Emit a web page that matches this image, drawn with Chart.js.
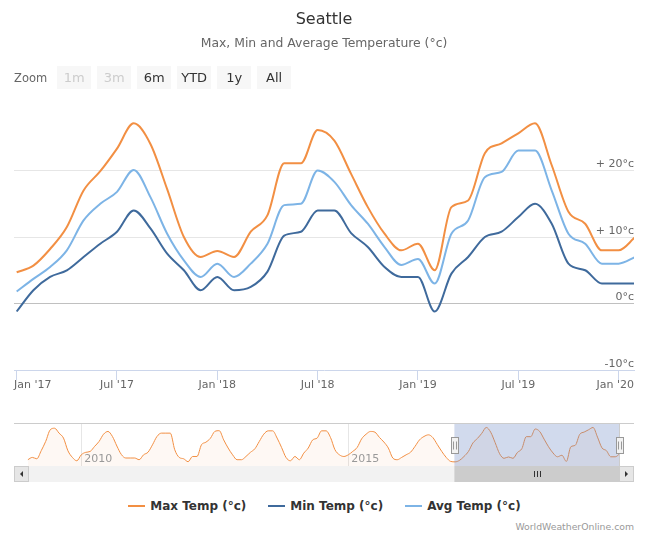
<!DOCTYPE html>
<html>
<head>
<meta charset="utf-8">
<title>Seattle</title>
<script src="https://cdn.jsdelivr.net/npm/chart.js@4.4.1/dist/chart.umd.min.js"></script>
<style>
  html, body { margin: 0; padding: 0; background: #fff; }
  body { width: 649px; height: 533px; position: relative; overflow: hidden; font-family: 'DejaVu Sans', sans-serif; }
  #main { position: absolute; left: 0; top: 0; }
  #nav { position: absolute; left: 0; top: 415px; }
  .zoom-bar { position: absolute; left: 14px; top: 66px; height: 23px; display: flex; align-items: center; }
  .zoom-bar .lbl { font-size: 11.5px; color: #666; margin-right: 10px; }
  .zoom-bar .btn { width: 34px; height: 23px; line-height: 23px; margin-right: 6px; text-align: center; background: #f7f7f7; font-size: 13px; color: #333; }
  .zoom-bar .btn.off { color: #ccc; }
  #legend { position: absolute; left: 0; width: 649px; top: 499px; display: flex; justify-content: center; }
  #legend .item { display: flex; align-items: center; margin: 0 11px; font-size: 12px; font-weight: bold; color: #333; }
  #legend .sym { width: 17px; height: 2px; margin-right: 5px; }
  .credit { position: absolute; right: 15px; top: 521px; font-size: 9.3px; color: #999; }
</style>
</head>
<body>
<canvas id="main" width="649" height="400"></canvas>
<div class="zoom-bar">
  <span class="lbl">Zoom</span>
  <span class="btn off">1m</span>
  <span class="btn off">3m</span>
  <span class="btn">6m</span>
  <span class="btn">YTD</span>
  <span class="btn">1y</span>
  <span class="btn">All</span>
</div>
<canvas id="nav" width="649" height="70"></canvas>
<div id="legend"></div>
<div class="credit">WorldWeatherOnline.com</div>
<script>
// monthly values, Jan 2017 .. Feb 2020
const months = [
  '2017-01', '2017-02', '2017-03', '2017-04', '2017-05', '2017-06', '2017-07', '2017-08', '2017-09', '2017-10', '2017-11', '2017-12',
  '2018-01', '2018-02', '2018-03', '2018-04', '2018-05', '2018-06', '2018-07', '2018-08', '2018-09', '2018-10', '2018-11', '2018-12',
  '2019-01', '2019-02', '2019-03', '2019-04', '2019-05', '2019-06', '2019-07', '2019-08', '2019-09', '2019-10', '2019-11', '2019-12',
  '2020-01', '2020-02'
];
const maxTemp = [
  4.7, 5.7, 8.2, 11.5, 17.0, 19.9, 23.3, 27.1, 24.0, 17.2, 10.0, 7.0,
  7.9, 7.0, 10.8, 13.3, 21.1, 21.1, 26.1, 24.5, 19.5, 14.5, 10.5, 8.0,
  9.0, 5.0, 14.5, 15.5, 22.6, 24.1, 25.6, 27.1, 20.8, 13.8, 12.0, 8.0,
  8.0, 10.0
];
const minTemp = [
  -1.2, 2.0, 4.0, 5.0, 7.0, 9.0, 10.8, 14.0, 11.3, 7.5, 5.0, 2.0,
  4.0, 2.0, 2.5, 4.8, 10.2, 10.8, 14.0, 14.0, 10.6, 8.5, 5.5, 4.0,
  4.0, -1.2, 4.5, 7.0, 10.0, 10.8, 13.0, 15.0, 12.0, 6.0, 5.0, 3.0,
  3.0, 3.0
];
const avgTemp = [
  1.8, 3.7, 5.5, 8.0, 12.5, 15.0, 16.8, 20.1, 16.0, 10.5, 6.5, 4.0,
  6.0, 4.0, 6.0, 9.0, 14.8, 15.0, 20.0, 18.3, 14.8, 12.0, 8.5, 5.8,
  6.7, 3.0, 10.5, 12.5, 19.0, 19.8, 23.0, 23.0, 17.0, 10.5, 9.0, 6.0,
  6.0, 7.0
];

// navigator: max temp Jan 2009 .. Dec 2016, followed by maxTemp
const historyMax = [
  6.1, 7.6, 6.7, 12.0, 18.0, 25.5, 26.6, 23.4, 20.2, 11.9, 7.6, 5.4,
  9.3, 10.9, 11.5, 14.8, 18.0, 22.7, 24.5, 21.2, 15.0, 9.5, 7.2, 7.2,
  7.2, 6.1, 9.3, 11.0, 15.8, 21.2, 23.4, 23.4, 23.4, 12.6, 7.6, 6.7,
  4.8, 8.2, 8.2, 15.8, 17.5, 20.0, 24.5, 25.0, 19.0, 13.7, 9.3, 6.1,
  6.1, 8.2, 10.9, 13.2, 18.0, 22.7, 24.9, 24.9, 20.2, 14.1, 7.6, 5.4,
  8.2, 6.1, 10.4, 13.7, 19.0, 20.2, 24.9, 24.9, 20.6, 12.6, 9.3, 8.2,
  9.3, 11.5, 14.1, 19.7, 22.7, 24.5, 24.0, 20.6, 17.6, 13.7, 7.2, 6.1,
  7.6, 9.3, 11.0, 14.8, 19.0, 21.2, 22.3, 20.5, 16.0, 11.5, 7.6, 5.0
];

const xTickMonths = [0, 6, 12, 18, 24, 30, 36];
const xTickLabels = ["Jan '17", "Jul '17", "Jan '18", "Jul '18", "Jan '19", "Jul '19", "Jan '20"];
const yTicks = [-10, 0, 10, 20, 30];
const yTickLabels = ['-10°c', '0°c', '+ 10°c', '+ 20°c', ''];
const navYearTicks = [12, 72];
const navYearLabels = ['2010', '2015'];

const FONT = "'DejaVu Sans', sans-serif";
const COLORS = { max: '#f28f43', min: '#3f6a9c', avg: '#7db4e6' };

// visible window of the main chart (month index)
const viewMin = -0.16;
const viewMax = 36.92;
const navOffset = historyMax.length;

const toPoints = arr => arr.map((y, i) => ({ x: i, y }));

// x labels, kept inside the plot like highstock does
const xLabelsPlugin = {
  id: 'xLabels',
  afterDraw(chart) {
    const { ctx, chartArea, scales: { x } } = chart;
    ctx.save();
    ctx.font = '11px ' + FONT;
    ctx.fillStyle = '#666';
    ctx.textBaseline = 'middle';
    ctx.textAlign = 'left';
    xTickMonths.forEach((m, i) => {
      const w = ctx.measureText(xTickLabels[i]).width;
      let left = x.getPixelForValue(m) - w / 2;
      left = Math.max(chartArea.left, Math.min(left, chartArea.right - w));
      ctx.fillText(xTickLabels[i], left, chartArea.bottom + 15);
    });
    ctx.restore();
  }
};

const mainChart = new Chart(document.getElementById('main'), {
  type: 'line',
  data: {
    labels: months,
    datasets: [
      { label: 'Max Temp (°c)', data: toPoints(maxTemp), borderColor: COLORS.max, backgroundColor: COLORS.max },
      { label: 'Min Temp (°c)', data: toPoints(minTemp), borderColor: COLORS.min, backgroundColor: COLORS.min },
      { label: 'Avg Temp (°c)', data: toPoints(avgTemp), borderColor: COLORS.avg, backgroundColor: COLORS.avg }
    ]
  },
  options: {
    responsive: false,
    animation: false,
    events: [],
    elements: {
      line: { borderWidth: 2, cubicInterpolationMode: 'monotone' },
      point: { radius: 0 }
    },
    layout: { padding: { left: 14, right: 15, top: 0, bottom: 20 } },
    plugins: {
      title: {
        display: true,
        text: 'Seattle',
        color: '#333',
        font: { family: FONT, size: 16, weight: 'normal' },
        padding: { top: 10, bottom: 7 }
      },
      subtitle: {
        display: true,
        text: 'Max, Min and Average Temperature (°c)',
        color: '#666',
        font: { family: FONT, size: 12.4 },
        padding: { top: 0, bottom: 53 }
      },
      legend: { display: false },
      tooltip: { enabled: false }
    },
    scales: {
      x: {
        type: 'linear',
        min: viewMin,
        max: viewMax,
        afterBuildTicks: scale => { scale.ticks = xTickMonths.map(v => ({ value: v })); },
        ticks: { display: false },
        grid: { drawOnChartArea: false, drawTicks: true, tickLength: 10, color: '#ccd6eb' },
        border: { color: '#ccd6eb' }
      },
      y: {
        position: 'right',
        min: -10,
        max: 30,
        afterBuildTicks: scale => { scale.ticks = yTicks.map(v => ({ value: v })); },
        ticks: {
          mirror: true,
          padding: 0,
          labelOffset: -6,
          color: '#666',
          font: { family: FONT, size: 11 },
          callback: v => yTickLabels[yTicks.indexOf(v)] || null
        },
        grid: {
          drawTicks: false,
          color: ctx => ctx.tick.value === 0 ? '#c0c0c0' : (ctx.tick.value === -10 ? 'rgba(0,0,0,0)' : '#e6e6e6')
        },
        border: { display: false }
      }
    }
  },
  plugins: [xLabelsPlugin]
});

// navigator chrome: year labels, mask, handles and scrollbar
const navPlugin = {
  id: 'navChrome',
  afterDatasetsDraw(chart) {
    const { ctx, chartArea: a, scales: { x } } = chart;
    const x0 = x.getPixelForValue(viewMin + navOffset);
    const x1 = x.getPixelForValue(viewMax + navOffset);
    ctx.save();
    ctx.font = '11px ' + FONT;
    ctx.fillStyle = '#999';
    ctx.textBaseline = 'alphabetic';
    navYearTicks.forEach((m, i) => {
      ctx.fillText(navYearLabels[i], x.getPixelForValue(m) + 3, a.bottom - 4);
    });
    ctx.fillStyle = 'rgba(102,133,194,0.3)';
    ctx.fillRect(x0, a.top, x1 - x0, a.bottom - a.top);
    // outline
    ctx.strokeStyle = '#cccccc';
    ctx.lineWidth = 1;
    ctx.beginPath();
    ctx.moveTo(a.left, a.top + 0.5);
    ctx.lineTo(a.right, a.top + 0.5);
    ctx.moveTo(Math.round(x1) + 0.5, a.top);
    ctx.lineTo(Math.round(x1) + 0.5, a.bottom);
    ctx.stroke();
    // handles
    const mid = (a.top + a.bottom) / 2;
    [x0, x1].forEach(hx => {
      const l = Math.round(hx - 3) + 0.5, t = Math.round(mid - 8) + 0.5;
      ctx.fillStyle = '#f2f2f2';
      ctx.strokeStyle = '#999';
      ctx.fillRect(l, t, 7, 16);
      ctx.strokeRect(l, t, 7, 16);
      ctx.beginPath();
      ctx.moveTo(l + 2.5 - 0.5, t + 4); ctx.lineTo(l + 2.5 - 0.5, t + 12);
      ctx.moveTo(l + 4.5 + 0.5, t + 4); ctx.lineTo(l + 4.5 + 0.5, t + 12);
      ctx.stroke();
    });
    // scrollbar
    const st = a.bottom, sh = 16;
    ctx.fillStyle = '#f2f2f2';
    ctx.fillRect(a.left, st, a.right - a.left, sh);
    ctx.fillStyle = '#cccccc';
    ctx.fillRect(x0, st, x1 - x0, sh);
    ctx.strokeStyle = '#333';
    const gx = Math.round((x0 + x1) / 2) + 0.5;
    ctx.beginPath();
    [-3, 0, 3].forEach(d => { ctx.moveTo(gx + d, st + 5); ctx.lineTo(gx + d, st + 11); });
    ctx.stroke();
    // buttons
    [[a.left, -1], [a.right - 15, 1]].forEach(([bx, dir]) => {
      ctx.fillStyle = '#e6e6e6';
      ctx.fillRect(bx, st, 15, sh);
      ctx.strokeStyle = '#cccccc';
      ctx.strokeRect(bx + 0.5, st + 0.5, 14, sh - 1);
      ctx.fillStyle = '#333';
      const cx = bx + 7.5, cy = st + sh / 2;
      ctx.beginPath();
      ctx.moveTo(cx - 1.5 * dir, cy - 3);
      ctx.lineTo(cx + 1.5 * dir, cy);
      ctx.lineTo(cx - 1.5 * dir, cy + 3);
      ctx.closePath();
      ctx.fill();
    });
    ctx.restore();
  }
};

const navData = historyMax.concat(maxTemp);
new Chart(document.getElementById('nav'), {
  type: 'line',
  data: {
    datasets: [{
      label: 'navigator',
      data: toPoints(navData),
      borderColor: COLORS.max,
      backgroundColor: 'rgba(242,143,67,0.06)',
      borderWidth: 1,
      fill: 'start',
      cubicInterpolationMode: 'monotone',
      pointRadius: 0
    }]
  },
  options: {
    responsive: false,
    animation: false,
    events: [],
    layout: { padding: { left: 14, right: 15, top: 8, bottom: 19 } },
    plugins: { legend: { display: false }, tooltip: { enabled: false } },
    scales: {
      x: {
        type: 'linear',
        min: -3.12,
        max: 136.2,
        afterBuildTicks: scale => { scale.ticks = navYearTicks.map(v => ({ value: v })); },
        ticks: { display: false },
        grid: { drawTicks: false, color: '#e6e6e6' },
        border: { display: false }
      },
      y: { display: false, min: 2, max: 30 }
    }
  },
  plugins: [navPlugin]
});

// html legend from the main chart's datasets
const legendEl = document.getElementById('legend');
mainChart.data.datasets.forEach(ds => {
  const item = document.createElement('div');
  item.className = 'item';
  const sym = document.createElement('span');
  sym.className = 'sym';
  sym.style.background = ds.borderColor;
  const txt = document.createElement('span');
  txt.textContent = ds.label;
  item.appendChild(sym);
  item.appendChild(txt);
  legendEl.appendChild(item);
});
</script>
</body>
</html>
